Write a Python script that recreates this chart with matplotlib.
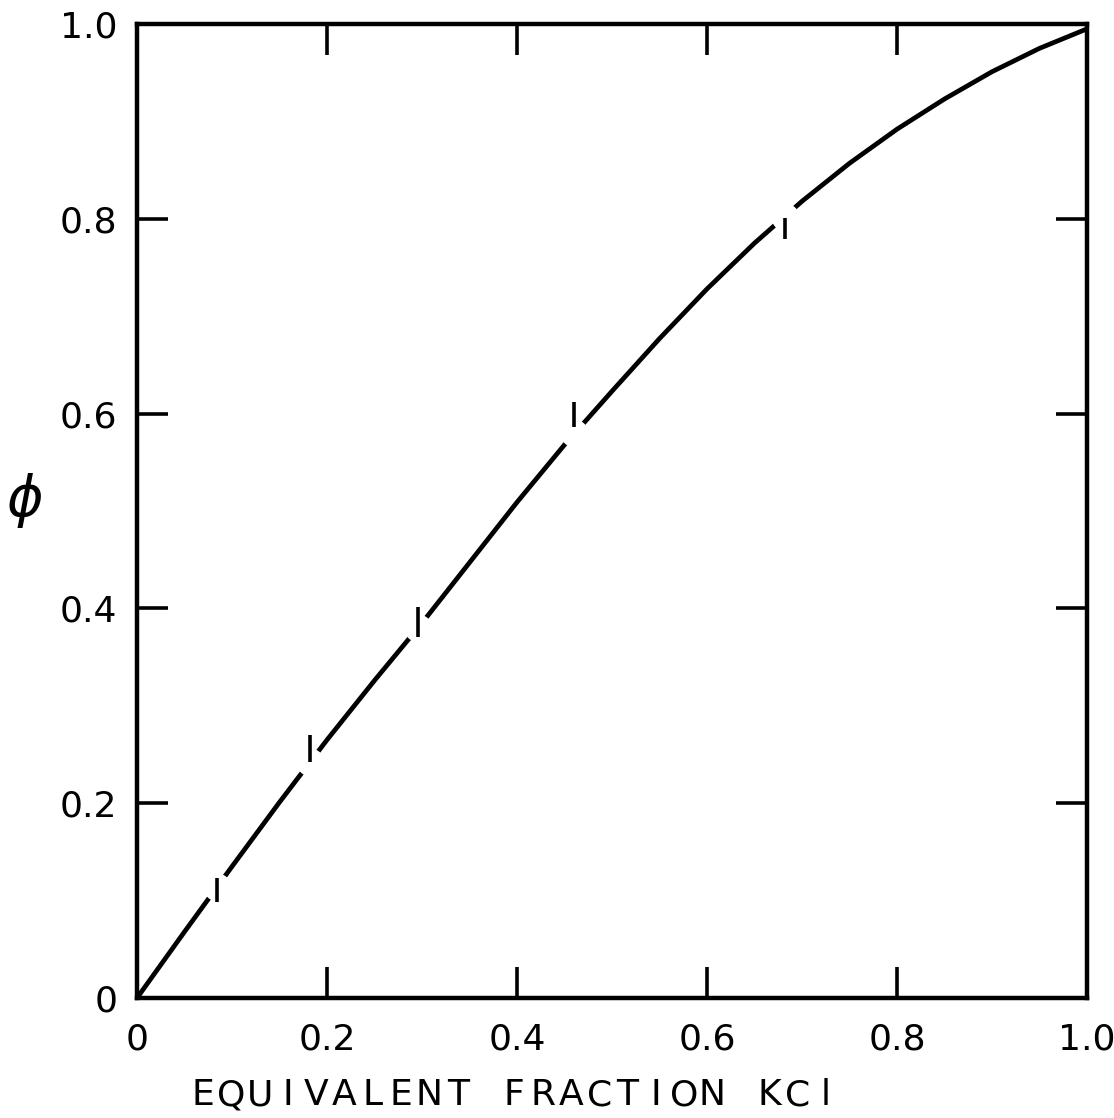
import matplotlib
matplotlib.use("Agg")
import matplotlib.pyplot as plt

# curva phi frente a fracción equivalente de KCl
frac_kcl = [0, 0.05, 0.1, 0.15, 0.2, 0.25, 0.3, 0.35, 0.4, 0.45, 0.5,
            0.55, 0.6, 0.65, 0.7, 0.75, 0.8, 0.85, 0.9, 0.95, 1.0]
phi = [0, 0.068, 0.135, 0.201, 0.265, 0.326, 0.385, 0.447, 0.509, 0.568, 0.623,
       0.677, 0.728, 0.775, 0.818, 0.857, 0.892, 0.923, 0.951, 0.975, 0.995]

# puntos experimentales (barras verticales) y huecos de la línea
punto_x = [0.084, 0.182, 0.296, 0.46, 0.682]
punto_y = [0.111, 0.256, 0.386, 0.599, 0.79]
hueco_y = [0.114, 0.242, 0.380, 0.580, 0.802]
semi_barra = [0.012, 0.014, 0.015, 0.013, 0.011]

ticks = [0, 0.2, 0.4, 0.6, 0.8, 1.0]
ticks_txt = ["0", "0.2", "0.4", "0.6", "0.8", "1.0"]
titulo_x = "EQUIVALENT FRACTION KCl"

W, H = 1114, 1118
fig = plt.figure(figsize=(W / 100, H / 100), dpi=100)
ax = fig.add_axes([137 / W, 1 - 998 / H, 950 / W, 974 / H])

ax.plot(frac_kcl, phi, color="black", lw=3.4, solid_capstyle="round",
        solid_joinstyle="round", zorder=2)
# huecos blancos alrededor de cada punto
ax.plot(punto_x, hueco_y, "o", ms=20, color="white", mec="none", zorder=3)
ax.vlines(punto_x, [y - h for y, h in zip(punto_y, semi_barra)],
          [y + h for y, h in zip(punto_y, semi_barra)],
          color="black", lw=2.6, zorder=4)

ax.set_xlim(0, 1)
ax.set_ylim(0, 1)
ax.set_xticks(ticks)
ax.set_yticks(ticks)
ax.set_xticklabels(ticks_txt)
ax.set_yticklabels(ticks_txt)
ax.tick_params(direction="in", length=22, width=2.6, top=True, right=True,
               labelsize=26, color="black")
ax.tick_params(axis="x", pad=18)
ax.tick_params(axis="y", pad=14)
for s in ax.spines.values():
    s.set_linewidth(3.2)

# ylabel phi
fig.text(24 / W, 1 - 500 / H, r"$\phi$", fontsize=40, ha="center", va="center")

# xlabel con letras espaciadas
x0, paso = 203, 28.3
for i, c in enumerate(titulo_x):
    if c == " ":
        continue
    fig.text((x0 + i * paso) / W, 1 - 1095 / H, c, fontsize=26,
             ha="center", va="center")

fig.savefig("out.png", dpi=100)
